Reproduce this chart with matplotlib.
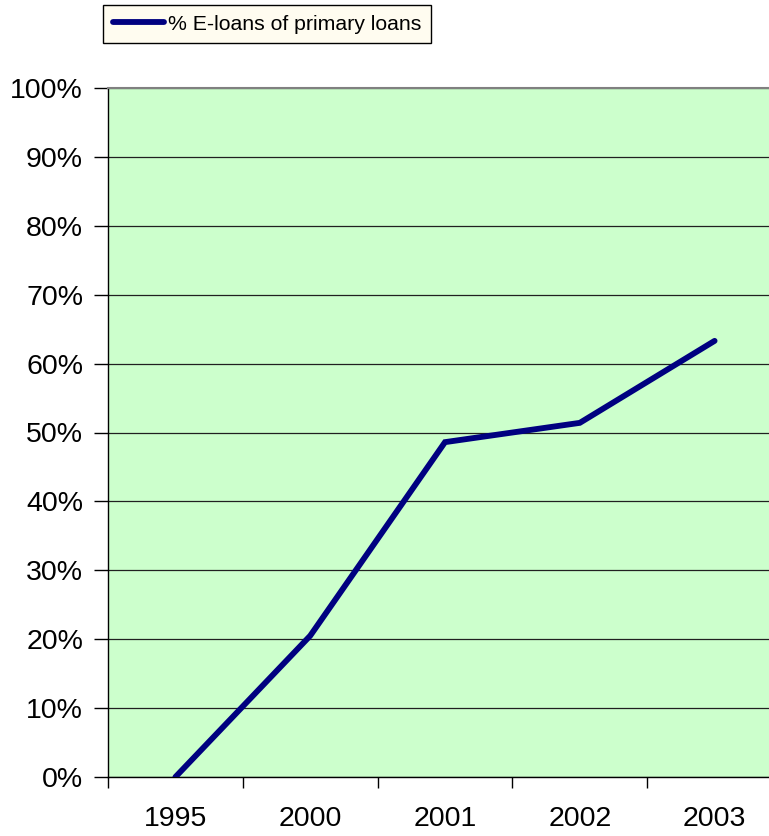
import matplotlib
matplotlib.use("Agg")
import matplotlib.pyplot as plt
from matplotlib.ticker import FixedLocator, FuncFormatter

categories = ["1995", "2000", "2001", "2002", "2003"]
values = [0.0, 20.5, 48.6, 51.4, 63.3]
series_name = "% E-loans of primary loans"

plt.rcParams['font.family'] = ['Liberation Sans', 'DejaVu Sans']

W, H = 769, 836
fig = plt.figure(figsize=(W / 100, H / 100), dpi=100)
left, right, top, bottom = 108, 782, 88, 777
ax = fig.add_axes([left / W, 1 - bottom / H, (right - left) / W, (bottom - top) / H])
ax.set_facecolor("#CCFFCC")

x = list(range(len(categories)))
line, = ax.plot(x, values, color="#000080", lw=4.2, solid_capstyle="round",
                solid_joinstyle="miter", zorder=3, label=series_name)

ax.set_xlim(-0.5, len(categories) - 0.5)
ax.set_ylim(0, 100)
ax.set_yticks(range(0, 101, 10))
ax.yaxis.set_major_formatter(FuncFormatter(lambda v, p: f"{int(v)}%"))
ax.yaxis.grid(True, color="#202020", lw=0.9)
ax.set_axisbelow(True)

ax.set_xticks(x)
ax.set_xticklabels(categories)
ax.xaxis.set_minor_locator(FixedLocator([i - 0.5 for i in range(len(categories) + 1)]))
ax.tick_params(axis="x", which="major", length=0, pad=21, labelsize=20.5)
ax.tick_params(axis="x", which="minor", length=8, width=1, color="black")
ax.tick_params(axis="y", which="major", length=10, width=1, pad=8, labelsize=20.5)

for s in ["left", "bottom"]:
    ax.spines[s].set_color("black")
    ax.spines[s].set_linewidth(1)
ax.spines["top"].set_color("#808080")
ax.spines["top"].set_linewidth(1.5)
ax.spines["right"].set_visible(False)

leg = fig.legend(handles=[line], loc="upper left",
                 bbox_to_anchor=(103 / W, 1 - 5 / H), borderaxespad=0,
                 fontsize=15.3, handlelength=2.4, handletextpad=0.2,
                 borderpad=0.45, fancybox=False, framealpha=1)
leg.get_frame().set_facecolor("#FFFCF0")
leg.get_frame().set_edgecolor("black")
leg.get_frame().set_linewidth(1)

fig.savefig("out.png", dpi=100)
